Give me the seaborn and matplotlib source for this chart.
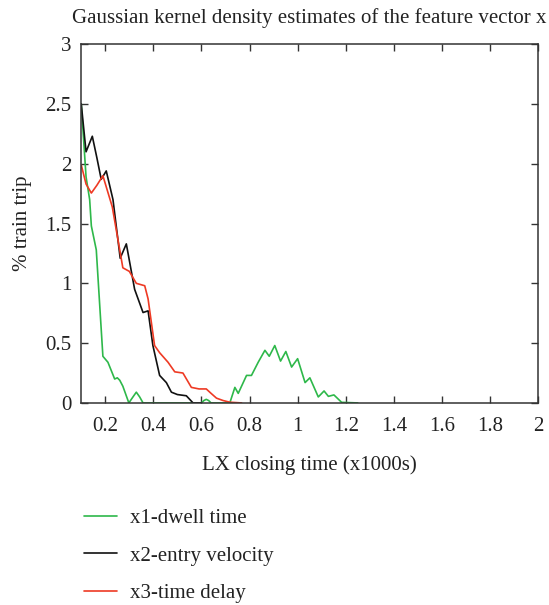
import matplotlib
matplotlib.use("Agg")
import matplotlib.pyplot as plt
import seaborn as sns
import pandas as pd

# Lectures du graphique (x en milliers de secondes, y en % de trajets)
x1_dwell = [0.10, 0.12, 0.135, 0.142, 0.1625, 0.19, 0.211, 0.239, 0.25, 0.26, 0.273, 0.298,
            0.315, 0.329, 0.343, 0.357, 0.60, 0.61, 0.62, 0.63, 0.64, 0.718, 0.739, 0.753,
            0.7875, 0.808, 0.836, 0.864, 0.882, 0.905, 0.929, 0.951, 0.975, 1.0, 1.031,
            1.051, 1.086, 1.11, 1.128, 1.151, 1.183, 1.25]
y1_dwell = [2.5, 1.89, 1.70, 1.48, 1.28, 0.39, 0.34, 0.20, 0.21, 0.19, 0.14, 0.0,
            0.05, 0.09, 0.05, 0.0, 0.0, 0.02, 0.03, 0.02, 0.0, 0.0, 0.13, 0.08,
            0.23, 0.23, 0.34, 0.44, 0.39, 0.48, 0.35, 0.43, 0.30, 0.37, 0.17,
            0.21, 0.05, 0.10, 0.055, 0.067, 0.005, 0.0]

x2_velocity = [0.10, 0.12, 0.146, 0.165, 0.183, 0.204, 0.232, 0.262, 0.2875, 0.322, 0.357,
               0.378, 0.398, 0.426, 0.454, 0.475, 0.50, 0.537, 0.565, 0.60]
y2_velocity = [2.5, 2.10, 2.23, 2.05, 1.87, 1.94, 1.70, 1.21, 1.33, 0.95, 0.756,
               0.77, 0.48, 0.23, 0.17, 0.09, 0.07, 0.06, 0.0, 0.0]

x3_delay = [0.10, 0.12, 0.142, 0.165, 0.19, 0.229, 0.273, 0.30, 0.329, 0.364, 0.378,
            0.405, 0.426, 0.461, 0.489, 0.523, 0.558, 0.59, 0.62, 0.64, 0.6625, 0.69,
            0.718, 0.767]
y3_delay = [1.99, 1.83, 1.755, 1.82, 1.90, 1.64, 1.13, 1.10, 1.00, 0.98, 0.87,
            0.48, 0.42, 0.34, 0.26, 0.25, 0.13, 0.117, 0.117, 0.08, 0.04, 0.02,
            0.006, 0.0]

series = ["x1-dwell time", "x2-entry velocity", "x3-time delay"]
couleurs = ["#2eb84a", "#111111", "#ee3a24"]

df = pd.concat([
    pd.DataFrame({"x": x1_dwell, "y": y1_dwell, "serie": series[0]}),
    pd.DataFrame({"x": x2_velocity, "y": y2_velocity, "serie": series[1]}),
    pd.DataFrame({"x": x3_delay, "y": y3_delay, "serie": series[2]}),
])

sns.set_style("ticks")
plt.rcParams["font.family"] = ["Liberation Serif", "DejaVu Serif"]
plt.rcParams["font.size"] = 15

fig = plt.figure(figsize=(5.49, 6.05), dpi=100)
ax = fig.add_axes([0.148, 0.334, 0.832, 0.593])

sns.lineplot(data=df, x="x", y="y", hue="serie", palette=couleurs, sort=False,
             estimator=None, linewidth=1.2, ax=ax, legend=False)

ax.set_xlim(0.1, 2.0)
ax.set_ylim(0, 3)
xt = [0.2, 0.4, 0.6, 0.8, 1.0, 1.2, 1.4, 1.6, 1.8, 2.0]
ax.set_xticks(xt)
ax.set_xticklabels(["0.2", "0.4", "0.6", "0.8", "1", "1.2", "1.4", "1.6", "1.8", "2"])
yt = [0, 0.5, 1, 1.5, 2, 2.5, 3]
ax.set_yticks(yt)
ax.set_yticklabels(["0", "0.5", "1", "1.5", "2", "2.5", "3"])
ax.tick_params(axis="x", pad=10)
ax.tick_params(axis="y", pad=7)
ax.tick_params(direction="in", length=5, width=1, color="#333333", top=True, right=True,
               labelsize=15, labelcolor="#222222")
for s in ax.spines.values():
    s.set_color("#333333")
    s.set_linewidth(1.1)

ax.set_xlabel("LX closing time (x1000s)", fontsize=15, color="#222222", labelpad=14)
ax.set_ylabel("% train trip", fontsize=15, color="#222222", labelpad=10)
ax.set_title("Gaussian kernel density estimates of the feature vector x", fontsize=15,
             color="#222222", pad=15)

handles = [plt.Line2D([], [], color=c, lw=1.2) for c in couleurs]
fig.legend(handles, series, loc="upper left", bbox_to_anchor=(0.118, 0.19),
           frameon=False, fontsize=15, handlelength=1.6, labelspacing=0.85,
           handletextpad=0.65, labelcolor="#222222")

fig.savefig("out.png", dpi=100)
